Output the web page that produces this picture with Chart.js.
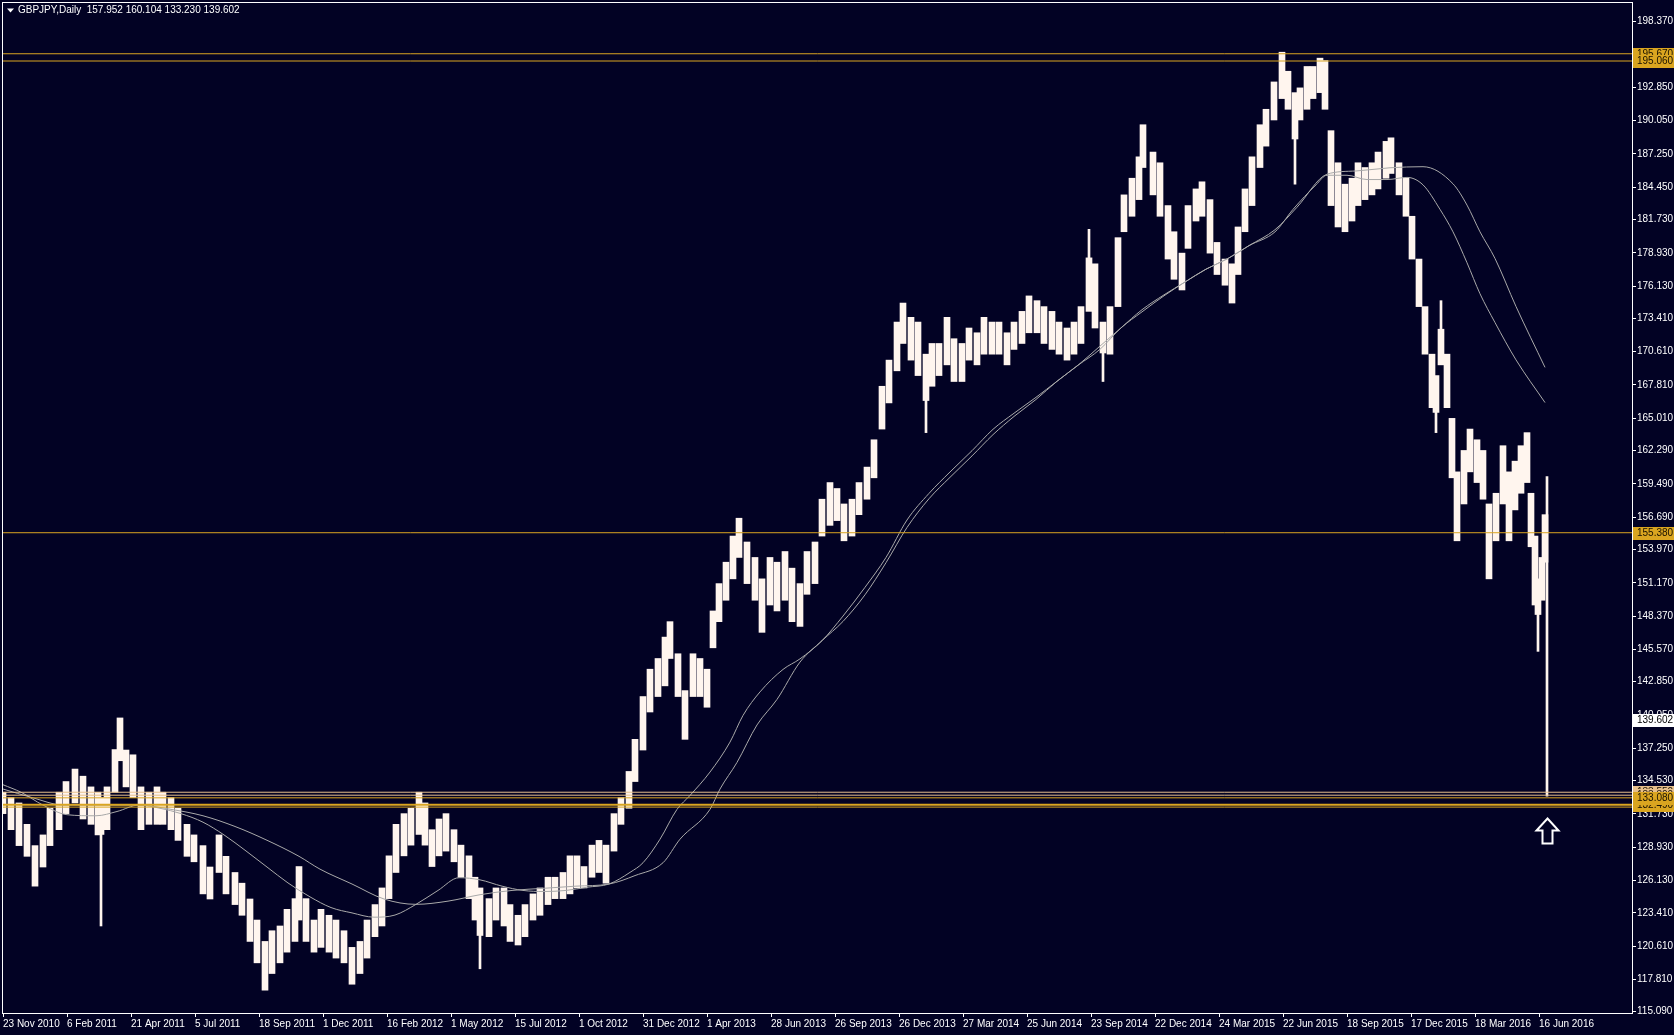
<!DOCTYPE html>
<html><head><meta charset="utf-8">
<script src="https://cdn.jsdelivr.net/npm/chart.js@4.4.1/dist/chart.umd.min.js"></script>
<style>html,body{margin:0;padding:0;background:#020224;overflow:hidden}canvas{display:block}</style>
</head><body><canvas id="c" width="1674" height="1035"></canvas>
<script>
// ---------- data ----------
const symbol = 'GBPJPY';
const timeframe = 'Daily';
const lastOHLC = [157.952, 160.104, 133.230, 139.602];

const dateLabels = ['23 Nov 2010','6 Feb 2011','21 Apr 2011','5 Jul 2011','18 Sep 2011','1 Dec 2011','16 Feb 2012','1 May 2012','15 Jul 2012','1 Oct 2012','31 Dec 2012','1 Apr 2013','28 Jun 2013','26 Sep 2013','26 Dec 2013','27 Mar 2014','25 Jun 2014','23 Sep 2014','22 Dec 2014','24 Mar 2015','22 Jun 2015','18 Sep 2015','17 Dec 2015','18 Mar 2016','16 Jun 2016'];
const barsPerDateLabel = 64;
const lastBarDay = 1629;

const yTicks = [198.370,195.570,192.850,190.050,187.250,184.450,181.730,178.930,176.130,173.410,170.610,167.810,165.010,162.290,159.490,156.690,153.970,151.170,148.370,145.570,142.850,140.050,137.250,134.530,131.730,128.930,126.130,123.410,120.610,117.810,115.090];
const yMin = 114.98, yMax = 199.94;

// weekly-ish price ranges (bar day index, high, low)
const barDay  = [0,8,16,24,32,40,47,56,63,72,80,88,95,98,104,112,117,123,130,138,146,154,160,168,175,184,191,200,207,216,223,232,239,247,254,262,269,277,284,292,296,303,311,318,326,333,341,349,357,364,372,379,386,393,401,408,416,422,429,436,443,451,458,466,472,477,486,493,501,507,515,522,530,537,545,552,560,567,574,581,589,596,603,611,618,626,632,640,647,655,662,667,675,682,690,697,704,710,716,723,730,736,744,752,759,767,774,782,789,797,804,812,819,827,834,841,849,856,864,871,879,886,894,900,908,915,923,929,936,944,951,959,966,974,981,989,996,1004,1011,1019,1026,1034,1041,1049,1056,1064,1071,1078,1086,1092,1100,1107,1115,1121,1129,1136,1140,1150,1157,1165,1171,1179,1185,1193,1199,1207,1214,1222,1229,1235,1242,1249,1257,1263,1271,1279,1285,1292,1297,1304,1310,1317,1322,1328,1335,1342,1349,1355,1362,1369,1375,1383,1388,1396,1403,1409,1416,1422,1429,1433,1438,1444,1449,1454,1461,1467,1474,1480,1486,1493,1500,1506,1512,1518,1524,1528,1532,1535,1539,1542];
const barHigh = [133.55,133.1,132.65,130.85,129.06,129.96,132.2,133.55,134.45,135.5,134.9,134.0,133.55,133.1,134.0,137.14,139.8,137.1,136.7,134.0,133.55,134.0,133.55,133.1,132.2,130.85,129.96,129.06,127.26,129.96,128.16,126.8,125.9,124.57,122.8,121.0,121.9,122.3,123.7,124.6,127.3,124.6,122.8,123.7,123.2,122.8,121.9,120.5,121.0,122.8,124.1,125.5,128.2,130.85,131.75,132.2,133.55,132.65,130.4,131.3,131.75,130.4,129.1,128.2,126.4,125.5,124.6,125.5,125.5,124.1,123.2,124.1,125.0,125.5,126.4,126.4,126.8,128.2,128.2,127.3,129.1,129.5,129.1,131.75,133.1,135.3,138.0,141.6,143.9,144.8,146.6,147.9,145.2,142.1,145.2,144.8,143.9,148.8,151.1,152.9,155.1,156.6,154.6,153.3,151.5,153.3,152.9,153.8,152.4,151.1,153.8,154.6,158.2,159.6,159.1,157.8,158.2,159.6,160.9,163.2,167.7,169.9,173.1,174.7,173.5,173.1,170.4,171.3,171.3,173.5,171.7,171.3,172.6,172.2,173.5,173.1,173.1,172.2,173.1,174.0,175.3,174.9,174.4,174.0,173.1,172.6,173.1,174.4,178.5,178.0,173.1,174.4,180.2,183.8,185.2,187.0,189.7,187.4,186.5,182.9,180.7,178.9,182.9,184.3,184.9,183.4,179.8,178.4,178.0,181.1,184.3,187.0,189.7,191.0,193.3,195.8,194.2,192.4,192.8,194.6,194.6,195.3,195.1,189.2,186.5,184.7,185.2,186.5,186.1,186.5,187.4,188.3,188.6,186.5,185.2,182.0,178.4,174.4,170.4,168.6,172.5,170.4,165.0,160.5,162.3,164.1,163.2,162.3,157.8,158.7,162.7,160.5,161.4,162.7,163.8,158.7,155.1,151.5,153.3,156.9];
const barLow  = [131.75,130.4,129.06,128.16,125.65,127.26,129.06,130.4,131.75,132.65,131.3,130.85,129.96,130.0,130.4,133.55,136.2,134.0,133.1,130.4,130.85,130.85,130.85,130.4,129.5,128.16,127.7,125.0,124.57,126.8,125.0,124.1,123.2,121.0,119.2,116.9,118.3,119.2,120.1,121.0,122.8,121.0,120.1,120.5,120.1,119.6,119.2,117.4,118.3,119.6,121.4,122.3,124.6,126.8,128.2,129.1,130.0,129.1,127.3,128.2,128.6,127.7,126.4,124.6,122.8,121.5,121.4,122.8,122.3,121.0,120.7,121.4,122.8,123.2,124.1,124.6,124.6,125.0,125.5,125.5,126.4,126.8,125.9,128.6,130.85,132.2,134.45,137.1,140.3,141.6,142.5,144.8,141.6,138.0,141.6,141.6,140.7,145.7,147.9,149.7,151.5,153.3,151.1,149.7,147.0,149.3,148.8,149.7,147.9,147.5,150.2,151.1,155.1,156.0,156.4,154.7,155.1,156.9,158.2,160.0,164.1,166.3,169.0,171.3,169.9,168.6,166.5,167.7,168.6,169.5,168.1,168.1,169.9,169.5,170.4,170.4,170.4,169.5,170.8,171.3,172.2,172.2,171.3,170.8,170.4,169.9,170.4,171.3,174.0,172.6,170.5,170.4,174.4,180.7,182.0,183.4,186.1,183.8,182.0,178.4,176.7,175.8,179.3,181.6,182.0,178.9,177.1,176.2,174.7,177.1,180.7,182.9,186.1,187.9,190.1,191.9,191.0,188.5,190.1,191.0,191.9,192.4,191.0,182.9,181.1,180.7,181.6,182.9,183.4,183.8,184.3,185.2,185.6,183.8,182.0,178.4,174.4,170.4,165.9,165.5,169.5,165.9,160.0,154.7,157.8,160.5,159.6,158.2,151.5,154.7,157.8,154.7,157.3,158.7,159.6,154.2,149.3,148.5,149.7,152.9];

// single-day spikes (day, high, low); last entry is the final bar
const wickDay  = [98,477,923,1086,1100,1292,1433,1438,1535,1544];
const wickHigh = [131.0,122.0,167.0,180.9,171.0,189.0,166.0,174.9,149.0,160.104];
const wickLow  = [122.3,118.7,163.8,178.0,168.1,184.7,163.8,172.0,145.4,133.230];

// moving averages (day, value)
const fastMaDay = [0,18,40,64,93,114,136,157,178,200,221,243,264,285,307,328,349,371,392,413,435,456,477,499,520,541,563,584,606,627,640,657,674,687,707,727,740,757,780,797,819,840,862,883,904,926,947,969,990,1011,1033,1054,1075,1097,1118,1139,1161,1182,1203,1225,1246,1272,1290,1313,1324,1344,1364,1384,1404,1420,1437,1450,1464,1477,1492,1513,1542];
const fastMa    = [134.18,133.55,132.47,131.66,131.57,131.93,132.47,132.20,131.75,131.03,129.96,128.61,127.26,125.92,124.75,123.85,123.40,123.04,123.22,124.12,125.29,126.36,126.18,125.65,125.29,125.20,125.29,125.56,125.83,126.81,127.62,129.60,132.11,133.28,135.25,137.77,140.01,141.99,143.88,144.77,146.30,148.37,150.79,153.30,156.45,158.69,160.49,162.28,164.08,165.43,166.77,168.12,169.47,170.81,172.61,173.96,175.31,176.47,177.55,178.45,179.53,180.69,182.58,184.64,185.45,185.45,185.09,185.09,185.27,184.64,182.58,180.69,178.09,175.48,173.06,169.92,166.33];
const slowMaDay = [0,29,61,104,136,168,200,232,264,296,317,349,381,413,445,477,509,541,573,606,632,660,677,707,717,734,754,774,797,819,840,862,883,904,926,947,969,990,1011,1033,1054,1075,1097,1118,1139,1161,1182,1203,1225,1246,1272,1294,1324,1353,1387,1420,1450,1464,1477,1492,1513,1542];
const slowMa    = [133.82,133.10,132.47,132.47,132.47,132.11,131.57,130.67,129.51,128.16,127.08,125.83,124.57,124.12,124.39,124.93,125.29,125.47,125.65,125.83,126.54,127.62,129.60,132.11,133.82,136.06,139.21,141.36,144.50,146.30,147.92,150.16,152.86,155.82,158.24,160.04,161.84,163.63,165.16,166.59,168.12,169.47,171.08,172.61,174.14,175.39,176.47,177.55,178.45,179.53,180.87,182.76,185.54,185.81,186.08,186.17,184.73,182.94,180.69,178.45,174.41,169.29];

// horizontal levels
const levelPrices = [195.670,195.060,155.380,133.550,133.300,133.080,132.490,132.300];
const levelTone   = ['gold','gold','gold','light','light','gold','gold','gold'];
const levelWidth  = [1,1,1,1,1,1,2,1];
const levelLabelOrder = [0,1,2,3,4,6,5];

const arrowDay = 1544, arrowTopPrice = 131.35;

// ---------- styling ----------
const BG = '#020224';
const GOLD = '#DAA520', LIGHT = '#E8C08C';
const FONT = 'Liberation Sans';

const priceBars = barDay.map((d, i) => ({x: d, y: [barLow[i], barHigh[i]]}));
const wickBars = wickDay.map((d, i) => ({x: d, y: [wickLow[i], wickHigh[i]]}));
const fastPts = fastMaDay.map((d, i) => ({x: d, y: fastMa[i]}));
const slowPts = slowMaDay.map((d, i) => ({x: d, y: slowMa[i]}));

const levelSets = levelPrices.map((p, i) => ({
  type: 'line', data: [{x: 0, y: p}, {x: lastBarDay, y: p}],
  borderColor: levelTone[i] === 'gold' ? GOLD : LIGHT, borderWidth: levelWidth[i],
  pointRadius: 0, order: 0
}));

const decor = {
  id: 'decor',
  beforeDraw(chart) {
    const c = chart.ctx; c.save(); c.fillStyle = BG; c.fillRect(0, 0, chart.width, chart.height); c.restore();
  },
  afterDraw(chart) {
    const c = chart.ctx, a = chart.chartArea, xs = chart.scales.x, ys = chart.scales.y;
    c.save();
    // frame
    c.strokeStyle = '#FFFFFF'; c.lineWidth = 1;
    c.strokeRect(a.left - 0.5, a.top - 0.5, a.right - a.left + 1, a.bottom - a.top + 1);
    // title
    c.fillStyle = '#FFFFFF';
    c.beginPath(); c.moveTo(7, 8.5); c.lineTo(14, 8.5); c.lineTo(10.5, 12.5); c.closePath(); c.fill();
    c.font = '10px "' + FONT + '"'; c.textBaseline = 'middle'; c.textAlign = 'left';
    c.fillText(symbol + ',' + timeframe + '  ' + lastOHLC.map(v => v.toFixed(3)).join(' '), 18, 10.5);
    // arrow
    const ax = Math.round(xs.getPixelForValue(arrowDay)) + 0.5;
    const at = Math.round(ys.getPixelForValue(arrowTopPrice)) + 0.5;
    c.beginPath();
    c.moveTo(ax, at); c.lineTo(ax + 11, at + 12); c.lineTo(ax + 5, at + 12); c.lineTo(ax + 5, at + 25);
    c.lineTo(ax - 5, at + 25); c.lineTo(ax - 5, at + 12); c.lineTo(ax - 11, at + 12); c.closePath();
    c.fillStyle = BG; c.fill(); c.strokeStyle = '#FFFFFF'; c.lineWidth = 2; c.stroke();
    // price labels on axis
    const box = (price, fill, txt) => {
      const yy = Math.round(ys.getPixelForValue(price));
      c.fillStyle = fill; c.fillRect(a.right + 1, yy - 6, chart.width - a.right - 1, 13);
      c.fillStyle = txt; c.font = '10px "' + FONT + '"'; c.textBaseline = 'middle';
      c.fillText(price.toFixed(3), a.right + 5, yy + 0.5);
    };
    levelLabelOrder.forEach(i => box(levelPrices[i], levelTone[i] === 'gold' ? GOLD : LIGHT, '#1A1200'));
    box(lastOHLC[3], '#FFFFFF', '#000000');
    c.restore();
  }
};

new Chart(document.getElementById('c'), {
  type: 'bar',
  data: {
    datasets: [
      ...levelSets,
      {type: 'line', data: fastPts, borderColor: '#A9A9A9', borderWidth: 1, pointRadius: 0, cubicInterpolationMode: 'monotone', order: 1},
      {type: 'line', data: slowPts, borderColor: '#A9A9A9', borderWidth: 1, pointRadius: 0, cubicInterpolationMode: 'monotone', order: 1},
      {type: 'bar', data: wickBars, backgroundColor: '#FFF5EE', borderWidth: 0, barThickness: 2, order: 2, grouped: false},
      {type: 'bar', data: priceBars, backgroundColor: '#FFF5EE', borderWidth: 0, barThickness: 6, order: 3, grouped: false}
    ]
  },
  options: {
    responsive: false, animation: false, devicePixelRatio: 1,
    layout: {padding: {left: 3, top: 3, right: 0, bottom: 0}},
    plugins: {legend: {display: false}, tooltip: {enabled: false}, title: {display: false}},
    scales: {
      x: {
        type: 'linear', position: 'bottom', min: 0, max: lastBarDay, offset: false,
        afterBuildTicks: s => { s.ticks = dateLabels.map((_, i) => ({value: i * barsPerDateLabel})); },
        afterFit: s => { s.height = 22; s.paddingLeft = 0; s.paddingRight = 0; },
        ticks: {autoSkip: false, maxRotation: 0, minRotation: 0, align: 'start', padding: 1, color: '#FFFFFF',
                font: {family: FONT, size: 10}, callback: (v, i) => dateLabels[i]},
        grid: {drawOnChartArea: false, drawTicks: true, tickLength: 4, color: '#FFFFFF', offset: false},
        border: {display: true, color: '#FFFFFF'}
      },
      y: {
        type: 'linear', position: 'right', min: yMin, max: yMax, beginAtZero: false,
        afterBuildTicks: s => { s.ticks = yTicks.map(v => ({value: v})); },
        afterFit: s => { s.width = 42; s.paddingTop = 0; s.paddingBottom = 0; },
        ticks: {padding: 1, color: '#FFFFFF', font: {family: FONT, size: 10}, callback: v => Number(v).toFixed(3)},
        grid: {drawOnChartArea: false, drawTicks: true, tickLength: 4, color: '#FFFFFF'},
        border: {display: true, color: '#FFFFFF'}
      }
    }
  },
  plugins: [decor]
});
</script></body></html>
